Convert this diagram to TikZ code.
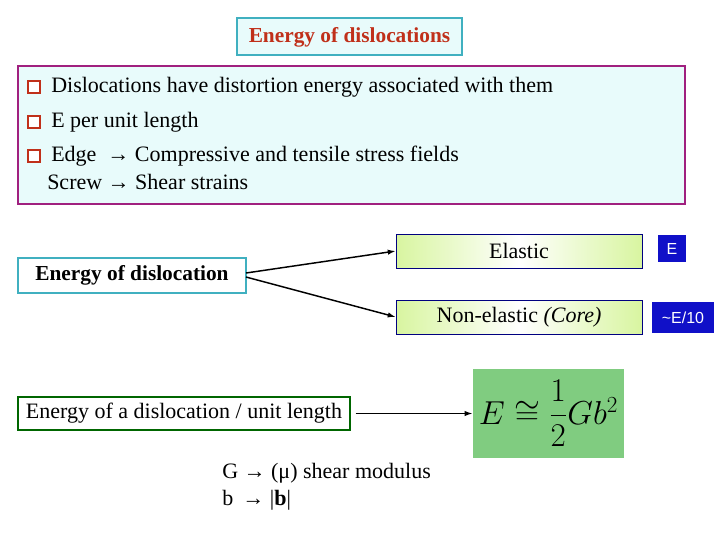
\documentclass[tikz,border=0pt]{standalone}
\usepackage{amsmath}
\usepackage{fontspec}
\setmainfont{Liberation Serif}
\newfontfamily\sansf{Liberation Sans}
\usetikzlibrary{arrows.meta}
\definecolor{cyanbg}{HTML}{E8FBFB}
\definecolor{teal1}{HTML}{40B0C0}
\definecolor{purp}{HTML}{A0207F}
\definecolor{titred}{HTML}{C0301A}
\definecolor{lgreen}{HTML}{D8F5A0}
\definecolor{fgreen}{HTML}{80CC80}
\definecolor{dblue}{HTML}{1010C8}
\tikzset{
 body/.style={font=\fontsize{16.5}{19}\selectfont, anchor=west, inner sep=0pt},
 bul/.style={draw=titred, fill=white, line width=1.3pt, minimum size=8.5pt, inner sep=0pt},
 grn/.style={draw=blue!50!black, left color=lgreen, right color=lgreen, middle color=white, shading angle=90},
 blu/.style={fill=dblue, text=white, font=\sansf\fontsize{12}{14}\selectfont, inner sep=0pt},
 arr/.style={-{Latex[length=6pt,width=4pt]}, line width=1.1pt},
}
\begin{document}
\begin{tikzpicture}[x=0.75pt,y=-0.75pt]
\useasboundingbox (0,0) rectangle (720,540);
% title
\draw[fill=cyanbg, draw=teal1, line width=1pt] (237,18) rectangle (462,55);
\node[text=titred, font=\bfseries\fontsize{16}{19}\selectfont] (title) at (349.5,37) {Energy of dislocations};
% main box
\draw[fill=cyanbg, draw=purp, line width=1.2pt] (18,66) rectangle (685,204);
\node[bul] (b1) at (34,87) {};
\node[bul] (b2) at (34,122) {};
\node[bul] (b3) at (34,156) {};
\node[body] (t1) at (51,87) {Dislocations have distortion energy associated with them};
\node[body] (t2) at (51,122) {E per unit length};
\node[body] (t3) at (51,156) {Edge \ → Compressive and tensile stress fields};
\node[body] (t4) at (47,182) {Screw → Shear strains};
% energy of dislocation
\node[draw=teal1, line width=1pt, fill=white, minimum width=228*0.75pt, minimum height=35*0.75pt, font=\bfseries\fontsize{16}{19}\selectfont] (eod) at (132,275.5) {Energy of dislocation};
\node[grn, minimum width=246*0.75pt, minimum height=34*0.75pt, font=\fontsize{16.5}{19}\selectfont] (el) at (519,251) {Elastic};
\node[grn, minimum width=246*0.75pt, minimum height=34*0.75pt, font=\fontsize{16.5}{19}\selectfont] (nel) at (519,317) {Non-elastic \textit{(Core)}};
\node[blu, minimum width=28*0.75pt, minimum height=27*0.75pt] (e) at (672,248.5) {E};
\node[blu, minimum width=62*0.75pt, minimum height=31*0.75pt] (e10) at (683,317.5) {\textasciitilde E/10};
\draw[arr] (246,273) -- (el.west);
\draw[arr] (246,277) -- (nel.west);
% formula
\node[draw=green!40!black, line width=0.8pt, fill=white, minimum width=332*0.75pt, minimum height=33*0.75pt, font=\fontsize{16.5}{19}\selectfont] (eul) at (184,413.5) {Energy of a dislocation / unit length};
\node[fill=fgreen, minimum width=151*0.75pt, minimum height=89*0.75pt, inner sep=0pt, font=\fontsize{25}{30}\selectfont] (form) at (548.5,413.5) {$E \cong \dfrac{1}{2}Gb^{2}$};
\draw[arr] (eul.east) ++(5,0) coordinate (s) -- (form.west);
\node[body] (g) at (222,473) {G → (μ) shear modulus};
\node[body] (b) at (222,500) {b \,→ |\textbf{b}|};
\end{tikzpicture}
\end{document}
